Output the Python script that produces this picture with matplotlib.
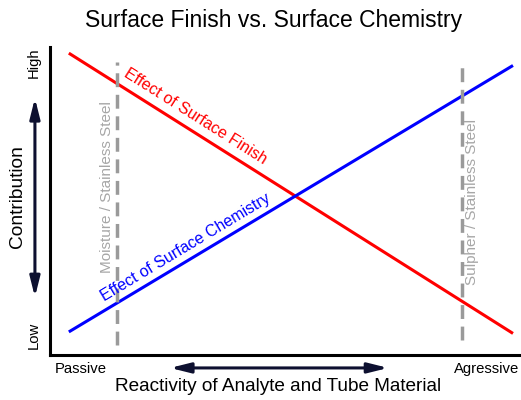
import matplotlib.pyplot as plt

plt.rcParams['font.family'] = ['Liberation Sans', 'DejaVu Sans']

# reactivity axis: 0 = passive, 1 = aggressive ; contribution: 0 = low, 1 = high
reactivity = [0.04, 0.983]
surface_finish = [0.98, 0.07]
surface_chemistry = [0.075, 0.94]

moisture_x = 0.142
moisture_span = [0.032, 0.951]
sulpher_x = 0.875
sulpher_span = [0.049, 0.942]

x_ticks = [0.066, 0.926]
x_labels = ["Passive", "Agressive"]
y_ticks = [0.065, 0.95]
y_labels = ["Low", "High"]

fig = plt.figure(figsize=(5.21, 4.0), dpi=100)
ax = fig.add_axes([50 / 521, 45 / 400, 471 / 521, 308 / 400])
ax.set_xlim(0, 1)
ax.set_ylim(0, 1)

ax.plot(reactivity, surface_finish, color='#ff0000', lw=2.2, solid_capstyle='butt')
ax.plot(reactivity, surface_chemistry, color='#0000ff', lw=2.2, solid_capstyle='butt')

ax.plot([moisture_x, moisture_x], moisture_span, color='#9a9a9a', lw=2.5, dashes=(4, 2.2))
ax.plot([sulpher_x, sulpher_x], sulpher_span, color='#9a9a9a', lw=2.5, dashes=(4, 2.2))

ax.text(0.308, 0.773, "Effect of Surface Finish", color='#ff0000', fontsize=11.5,
        rotation=-32.3, ha='center', va='center', rotation_mode='anchor')
ax.text(0.289, 0.351, "Effect of Surface Chemistry", color='#0000ff', fontsize=11.5,
        rotation=31, ha='center', va='center', rotation_mode='anchor')
ax.text(0.121, 0.545, "Moisture / Stainless Steel", color='#a6a6a6', fontsize=11,
        rotation=90, ha='center', va='center')
ax.text(0.896, 0.497, "Sulpher / Stainless Steel", color='#a6a6a6', fontsize=11,
        rotation=90, ha='center', va='center')

for side in ['top', 'right']:
    ax.spines[side].set_visible(False)
for side in ['left', 'bottom']:
    ax.spines[side].set_linewidth(2.2)
    ax.spines[side].set_color('black')

ax.set_xticks(x_ticks)
ax.set_xticklabels(x_labels, fontsize=10.7)
ax.set_yticks(y_ticks)
ax.set_yticklabels(y_labels, fontsize=10.7, rotation=90, va='center')
ax.tick_params(axis='both', length=0)
ax.tick_params(axis='x', pad=5)
ax.tick_params(axis='y', pad=7)

arrow = dict(arrowstyle='<|-|>,head_length=1.2,head_width=0.3', color='#0d1030', lw=2.2,
             shrinkA=0, shrinkB=0)
ax.annotate("", xy=(-0.032, 0.834), xytext=(-0.032, 0.188), xycoords='axes fraction',
            textcoords='axes fraction', arrowprops=arrow, annotation_clip=False)
ax.annotate("", xy=(0.255, -0.042), xytext=(0.718, -0.042), xycoords='axes fraction',
            textcoords='axes fraction', arrowprops=arrow, annotation_clip=False)

ax.text(-0.068, 0.516, "Contribution", transform=ax.transAxes, fontsize=13.8,
        rotation=90, ha='center', va='center')
ax.text(0.484, -0.103, "Reactivity of Analyte and Tube Material", transform=ax.transAxes,
        fontsize=13.7, ha='center', va='center')
fig.text(274 / 521, 1 - 21 / 400, "Surface Finish vs. Surface Chemistry",
         fontsize=16.5, ha='center', va='center')

fig.savefig('out.png', dpi=100)
